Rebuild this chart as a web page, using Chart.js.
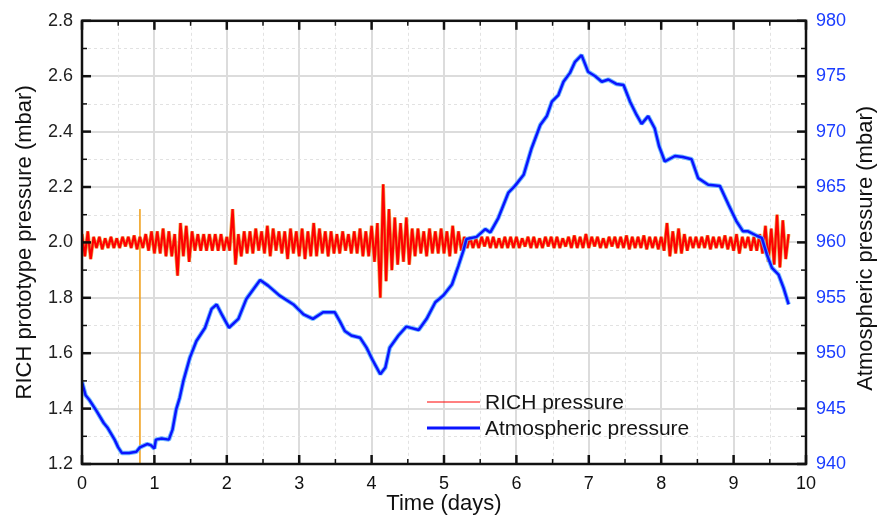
<!DOCTYPE html>
<html>
<head>
<meta charset="utf-8">
<title>RICH prototype pressure</title>
<script src="https://cdn.jsdelivr.net/npm/chart.js@4.4.1/dist/chart.umd.min.js"></script>
<style>
  html, body { margin: 0; padding: 0; background: #fff; }
</style>
</head>
<body>
<canvas id="pressureChart" width="877" height="517"></canvas>
<script>
// RICH pressure, one reading every 0.04 day starting at day 0 (mbar)
var richStart = 0;
var richStep = 0.04;
var richPressure = [
  2.03, 1.95, 2.04, 1.94, 2.02, 1.98, 2.02, 1.975, 2.015, 1.98, 2.02, 1.98, 2.015, 1.98, 2.02, 1.985, 2.02, 1.98, 2.025, 1.975, 2.02, 1.98, 2.03, 1.97, 2.04,
  1.96, 2.04, 1.96, 2.05, 1.95, 2.04, 1.95, 2.03, 1.88, 2.07, 1.95, 2.06, 1.93, 2.04, 1.97, 2.03, 1.97, 2.03, 1.97, 2.03, 1.97, 2.03, 1.97, 2.03, 1.97,
  2.02, 1.97, 2.12, 1.92, 2.03, 1.95, 2.04, 1.96, 2.04, 1.96, 2.05, 1.97, 2.04, 1.96, 2.06, 1.95, 2.05, 1.97, 2.04, 1.96, 2.04, 1.94, 2.05, 1.96, 2.04,
  1.95, 2.05, 1.94, 2.04, 1.95, 2.07, 1.95, 2.05, 1.96, 2.04, 1.95, 2.04, 1.96, 2.03, 1.96, 2.04, 1.97, 2.03, 1.96, 2.04, 1.96, 2.05, 1.95, 2.04, 1.95,
  2.06, 1.93, 2.07, 1.80, 2.21, 1.86, 2.12, 1.90, 2.09, 1.92, 2.07, 1.93, 2.09, 1.92, 2.05, 1.95, 2.05, 1.96, 2.04, 1.95, 2.05, 1.96, 2.04, 1.96, 2.05,
  1.96, 2.04, 1.95, 2.06, 1.96, 2.04, 1.97, 2.02, 1.98, 2.02, 1.98, 2.015, 1.98, 2.02, 1.985, 2.02, 1.98, 2.02, 1.98, 2.015, 1.98, 2.02, 1.98, 2.02, 1.98,
  2.02, 1.98, 2.015, 1.985, 2.02, 1.98, 2.02, 1.98, 2.015, 1.98, 2.02, 1.985, 2.02, 1.98, 2.02, 1.98, 2.015, 1.985, 2.02, 1.98, 2.025, 1.98, 2.02, 1.98, 2.03,
  1.98, 2.02, 1.985, 2.02, 1.98, 2.015, 1.98, 2.02, 1.985, 2.02, 1.98, 2.02, 1.98, 2.025, 1.975, 2.02, 1.98, 2.02, 1.98, 2.025, 1.975, 2.02, 1.98, 2.02, 1.975,
  2.02, 1.97, 2.07, 1.95, 2.04, 1.96, 2.05, 1.96, 2.03, 1.97, 2.02, 1.98, 2.02, 1.98, 2.02, 1.98, 2.025, 1.975, 2.02, 1.98, 2.02, 1.98, 2.025, 1.975, 2.02,
  1.97, 2.03, 1.96, 2.02, 1.98, 2.02, 1.97, 2.02, 1.97, 2.03, 1.96, 2.06, 1.93, 2.05, 1.92, 2.10, 1.91, 2.08, 1.94, 2.03
];

// single glitch reading in the RICH log (orange spike near day 0.8)
var glitchDays = [0.8, 0.8];
var glitchPressure = [2.12, 1.2];

// atmospheric pressure (mbar)
var atmDays = [
  0.00, 0.05, 0.10, 0.20, 0.30, 0.35, 0.45, 0.50, 0.55, 0.65, 0.75, 0.80, 0.90, 0.95, 1.00, 1.02, 1.10, 1.20, 1.25, 1.30,
  1.35, 1.40, 1.49, 1.58, 1.70, 1.79, 1.86, 1.93, 2.03, 2.16, 2.27, 2.37, 2.46, 2.57, 2.73, 2.92, 3.06, 3.19, 3.33, 3.49,
  3.56, 3.63, 3.72, 3.84, 3.93, 4.02, 4.12, 4.19, 4.25, 4.37, 4.48, 4.65, 4.76, 4.88, 4.99, 5.11, 5.20, 5.27, 5.31, 5.45,
  5.57, 5.64, 5.75, 5.89, 5.98, 6.10, 6.21, 6.33, 6.42, 6.49, 6.58, 6.65, 6.74, 6.81, 6.90, 6.99, 7.09, 7.18, 7.27, 7.38,
  7.48, 7.57, 7.66, 7.73, 7.82, 7.91, 7.97, 8.05, 8.19, 8.30, 8.42, 8.51, 8.65, 8.81, 8.93, 9.04, 9.13, 9.20, 9.32, 9.39,
  9.46, 9.53, 9.62, 9.69, 9.76
];
var atmPressure = [
  947.4, 946.2, 945.8, 944.8, 943.7, 943.3, 942.2, 941.5, 941.0, 941.0, 941.1, 941.5, 941.8, 941.7, 941.4, 942.2, 942.3, 942.2, 943.1, 944.9,
  946.0, 947.5, 949.6, 951.1, 952.3, 954.0, 954.4, 953.5, 952.3, 953.1, 954.9, 955.8, 956.6, 956.1, 955.2, 954.4, 953.5, 953.1, 953.7, 953.7,
  952.9, 952.0, 951.6, 951.4, 950.5, 949.3, 948.1, 948.7, 950.5, 951.6, 952.4, 952.1, 953.1, 954.6, 955.2, 956.2, 957.9, 959.3, 960.3, 960.5,
  961.2, 960.9, 962.2, 964.5, 965.1, 966.1, 968.5, 970.6, 971.4, 972.7, 973.3, 974.5, 975.3, 976.3, 976.9, 975.4, 975.0, 974.5, 974.7, 974.3,
  974.2, 972.7, 971.5, 970.7, 971.4, 970.3, 968.7, 967.3, 967.8, 967.7, 967.5, 965.8, 965.2, 965.1, 963.4, 961.9, 961.0, 961.0, 960.6, 960.4,
  958.9, 957.7, 957.1, 955.9, 954.4
];

// tick labels
var dayTicks = [0, 1, 2, 3, 4, 5, 6, 7, 8, 9, 10];
var richTicks = [1.2, 1.4, 1.6, 1.8, 2.0, 2.2, 2.4, 2.6, 2.8];
var atmTicks = [940, 945, 950, 955, 960, 965, 970, 975, 980];

var FONT = "'Liberation Sans', Arial, sans-serif";

var richPoints = richPressure.map(function (p, i) {
  return { x: richStart + i * richStep, y: p };
});
var atmPoints = atmDays.map(function (d, i) {
  return { x: d, y: atmPressure[i] };
});
var glitchPoints = glitchDays.map(function (d, i) {
  return { x: d, y: glitchPressure[i] };
});

function setTicks(list) {
  return function (scale) {
    scale.ticks = list.map(function (v) { return { value: v }; });
  };
}

// minor grid, inward tick marks, frame, right title and legend
var framePlugin = {
  id: 'frame',
  beforeDatasetsDraw: function (chart) {
    var ctx = chart.ctx, a = chart.chartArea;
    var x = chart.scales.x, y = chart.scales.y;
    ctx.save();
    ctx.strokeStyle = '#e2e2e2';
    ctx.lineWidth = 1;
    ctx.setLineDash([3, 3]);
    for (var i = 0; i < dayTicks.length - 1; i++) {
      var px = Math.round(x.getPixelForValue((dayTicks[i] + dayTicks[i + 1]) / 2)) + 0.5;
      ctx.beginPath(); ctx.moveTo(px, a.top); ctx.lineTo(px, a.bottom); ctx.stroke();
    }
    for (var j = 0; j < richTicks.length - 1; j++) {
      var py = Math.round(y.getPixelForValue((richTicks[j] + richTicks[j + 1]) / 2)) + 0.5;
      ctx.beginPath(); ctx.moveTo(a.left, py); ctx.lineTo(a.right, py); ctx.stroke();
    }
    ctx.restore();
  },
  afterDraw: function (chart) {
    var ctx = chart.ctx, a = chart.chartArea;
    var x = chart.scales.x, y = chart.scales.y, y2 = chart.scales.y2;
    ctx.save();
    ctx.strokeStyle = '#111';

    function tick(x1, y1, x2, y2p, w) {
      ctx.lineWidth = w;
      ctx.beginPath(); ctx.moveTo(x1, y1); ctx.lineTo(x2, y2p); ctx.stroke();
    }
    var i, px, py, mid;
    for (i = 0; i < dayTicks.length; i++) {
      px = x.getPixelForValue(dayTicks[i]);
      tick(px, a.bottom, px, a.bottom - 9, 2.5);
      tick(px, a.top, px, a.top + 9, 2.5);
      if (i < dayTicks.length - 1) {
        mid = x.getPixelForValue((dayTicks[i] + dayTicks[i + 1]) / 2);
        tick(mid, a.bottom, mid, a.bottom - 5, 1.5);
        tick(mid, a.top, mid, a.top + 5, 1.5);
      }
    }
    for (i = 0; i < richTicks.length; i++) {
      py = y.getPixelForValue(richTicks[i]);
      tick(a.left, py, a.left + 9, py, 2.5);
      if (i < richTicks.length - 1) {
        mid = y.getPixelForValue((richTicks[i] + richTicks[i + 1]) / 2);
        tick(a.left, mid, a.left + 5, mid, 1.5);
      }
    }
    for (i = 0; i < atmTicks.length; i++) {
      py = y2.getPixelForValue(atmTicks[i]);
      tick(a.right, py, a.right - 9, py, 2.5);
      if (i < atmTicks.length - 1) {
        mid = y2.getPixelForValue((atmTicks[i] + atmTicks[i + 1]) / 2);
        tick(a.right, mid, a.right - 5, mid, 1.5);
      }
    }

    // frame
    ctx.lineWidth = 2.5;
    ctx.strokeRect(a.left, a.top, a.right - a.left, a.bottom - a.top);

    // right axis title, reading bottom to top
    ctx.fillStyle = '#111';
    ctx.font = '22px ' + FONT;
    ctx.textAlign = 'center';
    ctx.textBaseline = 'middle';
    ctx.translate(866, (a.top + a.bottom) / 2 + 6);
    ctx.rotate(-Math.PI / 2);
    ctx.fillText('Atmospheric pressure (mbar)', 0, 0);
    ctx.restore();

    // legend
    ctx.save();
    ctx.font = '21px ' + FONT;
    ctx.textAlign = 'left';
    ctx.textBaseline = 'middle';
    var items = chart.data.datasets.filter(function (ds) { return ds.label.charAt(0) !== '_'; });
    var lx = 427, ly = 402;
    items.forEach(function (ds, k) {
      var yy = ly + k * 26;
      ctx.strokeStyle = ds.borderColor;
      ctx.lineWidth = k === 0 ? 1 : 3;
      ctx.beginPath(); ctx.moveTo(lx, yy); ctx.lineTo(lx + 53, yy); ctx.stroke();
      ctx.fillStyle = '#151515';
      ctx.fillText(ds.label, lx + 58, yy + 1);
    });
    ctx.restore();
  }
};

var ctx = document.getElementById('pressureChart').getContext('2d');

var pressureChart = new Chart(ctx, {
  type: 'line',
  data: {
    datasets: [{
        label: 'RICH pressure',
        data: richPoints,
        yAxisID: 'y',
        borderColor: '#ff0000',
        borderWidth: 2.2,
        order: 2
      }, {
        label: 'Atmospheric pressure',
        data: atmPoints,
        yAxisID: 'y2',
        borderColor: '#0a14ff',
        borderWidth: 2.5,
        order: 0
      }, {
        label: '_atm_halo',
        data: atmPoints,
        yAxisID: 'y2',
        borderColor: 'rgba(90,175,255,0.85)',
        borderWidth: 4.5,
        order: 1
      }, {
        label: '_rich_fringe',
        data: richPoints,
        yAxisID: 'y',
        borderColor: '#e9a64f',
        borderWidth: 3.6,
        order: 3
      }, {
        label: '_glitch',
        data: glitchPoints,
        yAxisID: 'y',
        borderColor: '#f0a830',
        borderWidth: 1,
        order: 4
      }
    ]
  },
  options: {
    responsive: false,
    devicePixelRatio: 1,
    animation: false,
    layout: { padding: { top: 19, right: 0, bottom: 0, left: 0 } },
    elements: {
      point: { radius: 0 },
      line: { tension: 0, fill: false, borderJoinStyle: 'bevel' }
    },
    scales: {
      x: {
        type: 'linear',
        min: 0,
        max: 10,
        afterBuildTicks: setTicks(dayTicks),
        afterFit: function (s) { s.height = 53; },
        border: { display: false },
        grid: { color: '#dcdcdc', lineWidth: 2, drawTicks: false },
        ticks: {
          color: '#111',
          padding: 9,
          maxRotation: 0,
          font: { family: FONT, size: 18 },
          callback: function (v) { return String(v); }
        },
        title: {
          display: true,
          text: 'Time (days)',
          color: '#111',
          font: { family: FONT, size: 22 },
          padding: { top: 0, bottom: 0 }
        }
      },
      y: {
        type: 'linear',
        position: 'left',
        min: 1.2,
        max: 2.8,
        afterBuildTicks: setTicks(richTicks),
        afterFit: function (s) { s.width = 82; },
        border: { display: false },
        grid: { color: '#dcdcdc', lineWidth: 2, drawTicks: false },
        ticks: {
          color: '#222',
          padding: 9,
          font: { family: FONT, size: 18 },
          callback: function (v) { return Number(v).toFixed(1); }
        },
        title: {
          display: true,
          text: 'RICH prototype pressure (mbar)',
          color: '#111',
          font: { family: FONT, size: 22 },
          padding: { top: 12, bottom: 0 }
        }
      },
      y2: {
        type: 'linear',
        position: 'right',
        min: 940,
        max: 980,
        afterBuildTicks: setTicks(atmTicks),
        afterFit: function (s) { s.width = 71; },
        border: { display: false },
        grid: { display: false, drawTicks: false },
        ticks: {
          color: '#1a3cff',
          padding: 10,
          font: { family: FONT, size: 18 },
          callback: function (v) { return String(v); }
        }
      }
    },
    plugins: {
      legend: { display: false },
      tooltip: { enabled: false }
    }
  },
  plugins: [framePlugin]
});
</script>
</body>
</html>
